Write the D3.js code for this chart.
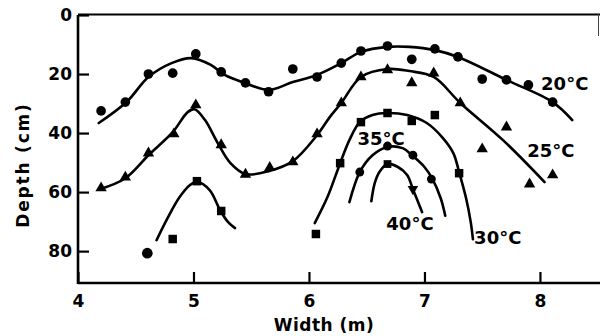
<!DOCTYPE html>
<html>
<head>
<meta charset="utf-8">
<script src="https://cdn.jsdelivr.net/npm/d3@7"></script>
<style>body{margin:0;background:#fff}</style>
</head>
<body>
<script>
// axis ticks
const xTicks = [4, 5, 6, 7, 8];
const yTicks = [0, 20, 40, 60, 80];

// measured points [width m, depth cm]
const pts20 = [[4.2,32.5],[4.41,29.5],[4.61,20],[4.82,19.7],[5.02,13.2],[5.24,19.3],[5.45,23],[5.65,26],
  [5.86,18.3],[6.07,21],[6.28,16.3],[6.45,12.2],[6.68,10.5],[6.89,15],[7.09,11.5],[7.29,14.2],
  [7.5,21.7],[7.71,22],[7.9,23.7],[8.11,29.5]];
const pts25 = [[4.2,58.6],[4.41,55],[4.61,46.8],[4.83,40.3],[5.02,30.5],[5.24,44],[5.45,54],[5.66,51.7],
  [5.86,49.8],[6.07,40.3],[6.28,29.8],[6.45,21],[6.68,18.6],[6.89,23],[7.08,19.7],[7.31,29.8],
  [7.5,45.4],[7.71,38],[7.91,57.3],[8.11,54.2]];
const pts30 = [[4.82,75.9],[5.03,56.3],[5.24,66.4],[6.06,74.2],[6.27,50.2],[6.45,36.3],[6.68,33.2],
  [6.89,35.9],[7.09,33.9],[7.3,53.6]];
const pts30round = [[4.6,80.7]];
const pts35 = [[6.44,53.2],[6.68,44.4],[6.9,47.5],[7.06,55.6]];
const pts40sq = [[6.68,50.5]];
const pts40tri = [[6.9,59]];

// fitted curves
const fit20 = [[4.18,36.6],[4.42,29.5],[4.61,21.0],[4.81,16.3],[4.98,14.6],[5.15,16.9],[5.27,20.3],
  [5.45,23.1],[5.65,25.4],[5.86,22.7],[6.07,20.3],[6.28,16.3],[6.45,12.5],[6.68,10.8],[6.87,10.8],
  [7.09,11.9],[7.29,14.2],[7.71,22.0],[8.11,29.5],[8.28,35.6]];
const fit25 = [[4.19,59.0],[4.41,55.3],[4.61,47.5],[4.82,39.7],[4.95,32.9],[5.01,31.9],[5.10,35.6],
  [5.21,43.4],[5.32,50.2],[5.45,53.9],[5.65,52.9],[5.86,49.5],[6.07,40.7],[6.18,34.6],[6.28,29.8],
  [6.45,21.0],[6.68,18.3],[6.87,19.0],[7.08,21.0],[7.31,29.8],[7.68,42.4],[8.04,56.6]];
const fit30a = [[4.68,76.3],[4.78,68.5],[4.88,61.7],[4.97,57.6],[5.03,56.6],[5.14,59.3],[5.23,66.1],
  [5.30,70.2],[5.36,72.2]];
const fit30b = [[6.05,70.5],[6.16,61.7],[6.27,50.2],[6.35,42.4],[6.44,36.3],[6.55,33.9],[6.68,33.2],
  [6.85,33.9],[7.02,36.6],[7.16,41.7],[7.25,46.8],[7.30,53.2],[7.36,62.0],[7.40,70.0],[7.42,76.0]];
const fit35 = [[6.35,63.4],[6.44,53.2],[6.55,47.5],[6.68,44.7],[6.81,45.1],[6.90,47.8],[7.00,51.5],
  [7.07,55.6],[7.14,62.0],[7.18,68.0]];
const fit40 = [[6.54,63.1],[6.57,56.9],[6.61,53.2],[6.68,50.5],[6.77,51.5],[6.85,54.2],[6.90,59.0],
  [6.98,66.8]];

// curve labels [text, width, depth at baseline]
const curveLabels = [["20°C",8.01,25.4],["25°C",7.89,48.1],["35°C",6.42,44.1],["30°C",7.43,77.6],["40°C",6.67,72.9]];

const W = 600, H = 336;
const font = "'DejaVu Sans', sans-serif";

const svg = d3.select("body").append("svg")
  .attr("width", W).attr("height", H)
  .style("background", "#fff")
  .style("font-family", font);

const x = d3.scaleLinear().domain([4, 8.52]).range([78, 600]);
const y = d3.scaleLinear().domain([0, 90.8]).range([15, 283]);

// frame: top line and small right stub
svg.append("line").attr("x1", 78).attr("x2", 600).attr("y1", 14.5).attr("y2", 14.5)
  .attr("stroke", "#000").attr("stroke-width", 2);
svg.append("line").attr("x1", 598.5).attr("x2", 598.5).attr("y1", 14).attr("y2", 36)
  .attr("stroke", "#444").attr("stroke-width", 1);

const xAxis = svg.append("g").attr("transform", "translate(0,283)")
  .call(d3.axisBottom(x).tickValues(xTicks).tickSize(-11).tickSizeOuter(0).tickPadding(12).tickFormat(d3.format("d")));
const yAxis = svg.append("g").attr("transform", "translate(78,0)")
  .call(d3.axisLeft(y).tickValues(yTicks).tickSize(-11).tickSizeOuter(0).tickPadding(6).tickFormat(d3.format("d")));

[xAxis, yAxis].forEach(g => {
  g.select(".domain").attr("stroke-width", 2.6);
  g.selectAll(".tick line").attr("stroke-width", 2.2);
  g.selectAll("text").attr("font-family", font).attr("font-size", 17).attr("font-weight", "bold").attr("fill", "#000");
});
xAxis.select(".domain").attr("d", "M78,0H600");
yAxis.select(".domain").attr("d", "M0,15V284");

svg.append("text").attr("x", 324).attr("y", 331).attr("text-anchor", "middle")
  .attr("font-size", 17).attr("font-weight", "bold").attr("letter-spacing", 0.5).text("Width (m)");
svg.append("text").attr("transform", "translate(29,165) rotate(-90)").attr("text-anchor", "middle")
  .attr("font-size", 17).attr("font-weight", "bold").attr("letter-spacing", 1.8).text("Depth (cm)");

// fitted lines
const line = d3.line().x(d => x(d[0])).y(d => y(d[1])).curve(d3.curveCatmullRom.alpha(0.5));
[fit20, fit25, fit30a, fit30b, fit35, fit40].forEach(f => {
  svg.append("path").attr("d", line(f)).attr("fill", "none").attr("stroke", "#000")
    .attr("stroke-width", 2.6).attr("stroke-linecap", "round");
});

// markers
const sym = (type, size, data, rot) => svg.append("g").selectAll("path").data(data).join("path")
  .attr("transform", d => `translate(${x(d[0])},${y(d[1])})${rot ? " rotate(180)" : ""}`)
  .attr("d", d3.symbol(type, size)).attr("fill", "#000");
sym(d3.symbolCircle, 74, pts20);
sym(d3.symbolTriangle, 56, pts25);
sym(d3.symbolSquare, 72, pts30);
sym(d3.symbolCircle, 90, pts30round);
sym(d3.symbolCircle, 62, pts35);
sym(d3.symbolSquare, 60, pts40sq);
sym(d3.symbolTriangle, 48, pts40tri, true);

svg.append("g").selectAll("text").data(curveLabels).join("text")
  .attr("x", d => x(d[1])).attr("y", d => y(d[2]))
  .attr("font-size", 18).attr("font-weight", "bold").text(d => d[0]);
</script>
</body>
</html>
